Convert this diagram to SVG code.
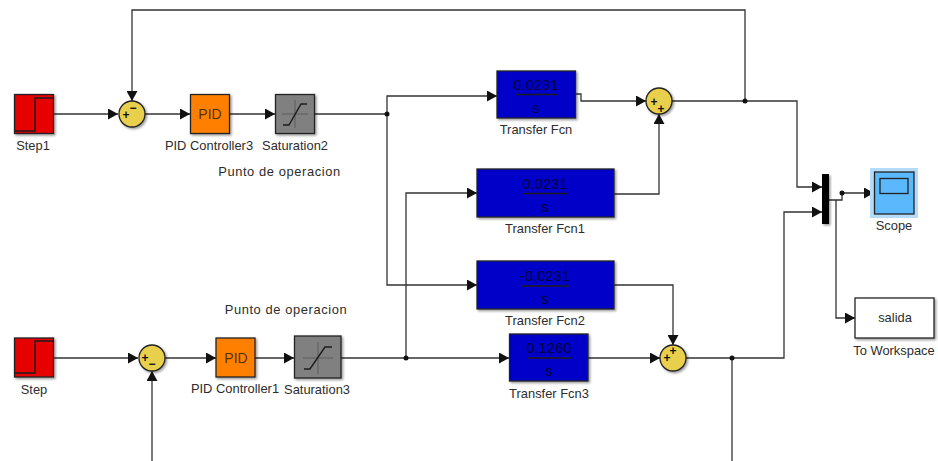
<svg xmlns="http://www.w3.org/2000/svg" width="938" height="461" viewBox="0 0 938 461">
<style>
text{font-family:"Liberation Sans",Arial,sans-serif;font-size:12.9px;fill:#2c2c2c;text-anchor:middle}
.w{fill:none;stroke:#333;stroke-width:1.3}
.b{stroke:#222;stroke-width:1.3;filter:url(#sh)}
.red{fill:#e60000}.or{fill:#ff8000}.gr{fill:#808080}.bl{fill:#0000c8}.sum{fill:#e8d04e}
.g{fill:none;stroke:#5c5c5c;stroke-width:1}
.k{fill:none;stroke:#1c1c1c;stroke-width:1.4}
.tf{fill:#00003c;font-size:14px;letter-spacing:.4px}
.s{fill:#111;font-size:12px;font-weight:bold}
.d{fill:#111}
</style>
<defs>
<filter id="sh" x="-20%" y="-20%" width="150%" height="150%"><feDropShadow dx="1.5" dy="1.5" stdDeviation="1" flood-color="#000" flood-opacity=".4"/></filter>
<marker id="a" markerUnits="userSpaceOnUse" markerWidth="11" markerHeight="11" refX="10" refY="5.5" orient="auto"><path d="M0 0L10 5.5L0 11Z" fill="#111"/></marker>
</defs>
<rect width="938" height="461" fill="#fff"/>
<g id="connectors">
<path class="w" marker-end="url(#a)" d="M53 114H118"/>
<path class="w" marker-end="url(#a)" d="M745 101V10H132V101"/>
<path class="w" marker-end="url(#a)" d="M144 114H190"/>
<path class="w" marker-end="url(#a)" d="M230 114H275"/>
<path class="w" marker-end="url(#a)" d="M314 114H387V96H497"/>
<path class="w" marker-end="url(#a)" d="M387 114V285H477"/>
<path class="w" marker-end="url(#a)" d="M575 94H581V101H646"/>
<path class="w" marker-end="url(#a)" d="M614 194H659V114"/>
<path class="w" marker-end="url(#a)" d="M614 285H673V345"/>
<path class="w" marker-end="url(#a)" d="M672 101H797V187H822"/>
<path class="w" marker-end="url(#a)" d="M686 358H784V212H822"/>
<path class="w" d="M732 358V461"/>
<path class="w" marker-end="url(#a)" d="M829 200H842V193H874"/>
<path class="w" marker-end="url(#a)" d="M836 200V318H855"/>
<path class="w" marker-end="url(#a)" d="M53 358H138"/>
<path class="w" marker-end="url(#a)" d="M152 461V371"/>
<path class="w" marker-end="url(#a)" d="M164 358H216"/>
<path class="w" marker-end="url(#a)" d="M255 358H294"/>
<path class="w" marker-end="url(#a)" d="M341 358H509"/>
<path class="w" marker-end="url(#a)" d="M406 358V193H477"/>
<path class="w" marker-end="url(#a)" d="M588 358H660"/>
<circle class="d" cx="387" cy="114" r="2.5"/>
<circle class="d" cx="745" cy="101" r="2.5"/>
<circle class="d" cx="406" cy="358" r="2.5"/>
<circle class="d" cx="732" cy="358" r="2.5"/>
<circle class="d" cx="842" cy="193" r="2.5"/>
</g>
<g id="step1"><rect class="b red" x="14.500" y="94.500" width="39" height="39"/><path class="k" d="M15 131H35V98H53"/><text x="33" y="150">Step1</text></g>
<g id="sum1"><circle class="b sum" cx="132" cy="114" r="13"/><text class="s" x="126" y="119">+</text><text class="s" x="133" y="112">−</text></g>
<g id="pid3"><rect class="b or" x="190.500" y="94.500" width="39" height="39"/><text x="210" y="119" style="font-size:14px;fill:#5c3000">PID</text><text x="209" y="150">PID Controller3</text></g>
<g id="sat2"><rect class="b gr" x="275.500" y="94.500" width="39" height="39"/><path class="g" d="M282 114H308M295 100V128"/><path class="k" d="M283 125H289L301 104H307"/><text x="295" y="150">Saturation2</text></g>
<text x="279.500" y="176" style="letter-spacing:.6px">Punto de operacion</text>
<g id="tf"><rect class="b bl" x="497" y="71" width="78.500" height="47"/><path class="k" d="M515 94.500H558"/><text class="tf" x="536" y="90">0.0231</text><text class="tf" x="536" y="113">s</text><text x="536" y="134">Transfer Fcn</text></g>
<g id="tf1"><rect class="b bl" x="477" y="169" width="137" height="48"/><path class="k" d="M524 193.500H567"/><text class="tf" x="545" y="189">0.0231</text><text class="tf" x="545" y="212">s</text><text x="545" y="233">Transfer Fcn1</text></g>
<g id="tf2"><rect class="b bl" x="477" y="261" width="137" height="48"/><path class="k" d="M521 286H569"/><text class="tf" x="545" y="281">-0.0231</text><text class="tf" x="545" y="304">s</text><text x="545" y="325">Transfer Fcn2</text></g>
<g id="tf3"><rect class="b bl" x="509.500" y="334" width="78.500" height="47"/><path class="k" d="M528 358H571"/><text class="tf" x="549" y="353">0.1260</text><text class="tf" x="549" y="376">s</text><text x="549" y="398">Transfer Fcn3</text></g>
<g id="sumtop"><circle class="b sum" cx="659" cy="101" r="13"/><text class="s" x="654" y="106">+</text><text class="s" x="661" y="113">+</text></g>
<g id="sumbot"><circle class="b sum" cx="673" cy="358" r="13"/><text class="s" x="667" y="362">+</text><text class="s" x="673" y="355">+</text></g>
<text x="286" y="314" style="letter-spacing:.6px">Punto de operacion</text>
<g id="mux"><rect x="822" y="174" width="7" height="50" fill="#000" filter="url(#sh)"/></g>
<g id="scope"><rect x="870" y="168" width="48" height="50" fill="#b4dcf8"/><rect x="874.500" y="172" width="39.500" height="42" fill="#5bb8fc" stroke="#222" stroke-width="1.3"/><rect x="880" y="178.500" width="28" height="15" fill="#5bb8fc" stroke="#222" stroke-width="1.3"/><text x="894" y="230">Scope</text></g>
<g id="toworkspace"><rect class="b" x="855" y="298" width="79" height="40" fill="#fff"/><text x="895" y="322">salida</text><text x="894" y="355">To Workspace</text></g>
<g id="step"><rect class="b red" x="14.500" y="338" width="39" height="39"/><path class="k" d="M15 373H35V341H53"/><text x="34" y="394">Step</text></g>
<g id="sum2"><circle class="b sum" cx="152" cy="358" r="13"/><text class="s" x="145" y="362">+</text><text class="s" x="152" y="368">−</text></g>
<g id="pid1"><rect class="b or" x="216" y="338" width="39" height="39"/><text x="236" y="363" style="font-size:14px;fill:#5c3000">PID</text><text x="235" y="393">PID Controller1</text></g>
<g id="sat3"><rect class="b gr" x="294.500" y="336" width="46.500" height="42"/><path class="g" d="M303 358H333M318 342V374"/><path class="k" d="M304 369H310L325 347H332"/><text x="317" y="394">Saturation3</text></g>
</svg>
